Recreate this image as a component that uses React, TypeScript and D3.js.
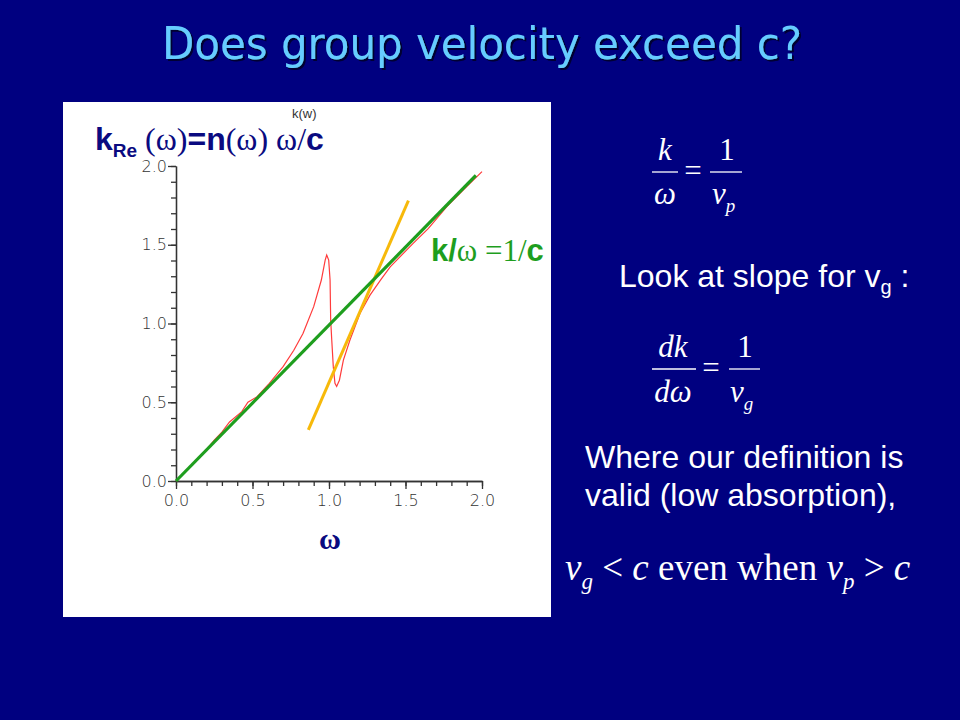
import React, { useEffect, useRef } from "react";
import * as d3 from "d3";

// Values: omega and k_Re(omega)
const omega = [0, 0.1, 0.2, 0.25, 0.3, 0.35, 0.43, 0.47, 0.53, 0.61, 0.7, 0.77, 0.83, 0.9, 0.95, 0.975, 0.985, 0.998, 1.007, 1.011, 1.018, 1.028, 1.039, 1.05, 1.068, 1.094, 1.137, 1.203, 1.268, 1.34, 1.4, 1.55, 1.65, 1.77, 1.9, 2.0];
const kRe = [0, 0.1, 0.2, 0.26, 0.31, 0.375, 0.44, 0.5, 0.535, 0.62, 0.726, 0.83, 0.937, 1.107, 1.276, 1.403, 1.435, 1.403, 1.276, 1.02, 0.895, 0.726, 0.62, 0.6, 0.64, 0.768, 0.895, 1.065, 1.18, 1.28, 1.36, 1.509, 1.604, 1.742, 1.869, 1.964];

// light line k = omega / c
const lightOmega = [0, 1.96];
const lightK = [0, 1.94];

// tangent at the steep part (group velocity)
const tangentOmega = [0.865, 1.519];
const tangentK = [0.324, 1.78];

const majorTicks = [0, 0.5, 1.0, 1.5, 2.0];
const minorTicks = d3.range(0, 2.0001, 0.1);

const BG = "#000080";
const NAVY = "#0a0a80";
const GREEN = "#1e9e1e";
const ORANGE = "#f7b90a";
const RED = "#ff3b3b";

export default function App() {
  const axRef = useRef<SVGGElement>(null);

  const x = d3.scaleLinear().domain([0, 2]).range([176, 482]);
  const y = d3.scaleLinear().domain([0, 2]).range([481, 166]);

  useEffect(() => {
    const g = d3.select(axRef.current);
    g.selectAll("*").remove();

    // minor ticks
    g.append("g")
      .attr("transform", `translate(0,${y(0)})`)
      .call(d3.axisBottom(x).tickValues(minorTicks).tickSize(5).tickSizeOuter(0).tickFormat(() => ""));
    g.append("g")
      .attr("transform", `translate(${x(0)},0)`)
      .call(d3.axisLeft(y).tickValues(minorTicks).tickSize(5).tickSizeOuter(0).tickFormat(() => ""));

    // major ticks with labels
    g.append("g")
      .attr("transform", `translate(0,${y(0)})`)
      .call(d3.axisBottom(x).tickValues(majorTicks).tickSize(8).tickSizeOuter(0).tickPadding(6).tickFormat(d3.format(".1f")));
    g.append("g")
      .attr("transform", `translate(${x(0)},0)`)
      .call(d3.axisLeft(y).tickValues(majorTicks).tickSize(8).tickSizeOuter(0).tickPadding(1).tickFormat(d3.format(".1f")));

    g.selectAll("path.domain").attr("stroke", "#333").attr("stroke-width", 1.3);
    g.selectAll(".tick line").attr("stroke", "#333").attr("stroke-width", 1.3);
    g.selectAll(".tick text")
      .attr("fill", "#333")
      .attr("font-size", 16)
      .attr("font-family", "'DejaVu Sans', sans-serif")
      .attr("font-weight", 300);
  }, []);

  const line = d3
    .line<[number, number]>()
    .x((d) => x(d[0]))
    .y((d) => y(d[1]));

  const redPts = omega.map((w, i) => [w, kRe[i]] as [number, number]);
  const lightPts = lightOmega.map((w, i) => [w, lightK[i]] as [number, number]);
  const tanPts = tangentOmega.map((w, i) => [w, tangentK[i]] as [number, number]);

  const serif = "'Liberation Serif', 'Times New Roman', serif";
  const sans = "'Liberation Sans', Arial, sans-serif";

  return (
    <svg width={960} height={720} style={{ position: "absolute", left: 0, top: 0 }}>
      <defs>
        <filter id="shadow" x="-5%" y="-20%" width="110%" height="150%">
          <feDropShadow dx={2} dy={2} stdDeviation={0.6} floodColor="#000030" floodOpacity={1} />
        </filter>
      </defs>
      <rect width={960} height={720} fill={BG} />

      {/* title */}
      <text
        x={482}
        y={59}
        fill="#66ccff"
        filter="url(#shadow)"
        textAnchor="middle"
        fontFamily="'DejaVu Sans Condensed', 'DejaVu Sans', sans-serif"
        fontSize={44}
        textLength={640}
        lengthAdjust="spacingAndGlyphs"
      >
        Does group velocity exceed c?
      </text>

      {/* plot panel */}
      <rect x={63} y={102} width={488} height={515} fill="#ffffff" />
      <g ref={axRef} />

      <path d={line(redPts) || ""} fill="none" stroke={RED} strokeWidth={1.2} />
      <path d={line(tanPts) || ""} fill="none" stroke={ORANGE} strokeWidth={3} />
      <path d={line(lightPts) || ""} fill="none" stroke={GREEN} strokeWidth={3.2} />

      <text x={292} y={118} fontFamily={sans} fontSize={13} fill="#333">k(w)</text>

      <text x={95} y={150} fontFamily={sans} fontWeight="bold" fontSize={32} fill={NAVY}>
        k<tspan fontSize={19} dy={7}>Re</tspan>
        <tspan dy={-7} fontWeight="normal" fontFamily={serif}> (ω)</tspan>
        <tspan>=n</tspan>
        <tspan fontWeight="normal" fontFamily={serif}>(ω)  ω/</tspan>
        <tspan>c</tspan>
      </text>

      <text x={431} y={261} fontFamily={sans} fontWeight="bold" fontSize={31} fill={GREEN}>
        k/<tspan fontWeight="normal" fontFamily={serif}>ω =1/</tspan>
        <tspan>c</tspan>
      </text>

      <text x={330} y={549} textAnchor="middle" fontFamily={serif} fontWeight="bold" fontSize={30} fill={NAVY}>
        ω
      </text>

      {/* right hand side */}
      <g fill="#ffffff" fontFamily={serif} fontSize={31}>
        <text x={665} y={160} textAnchor="middle" fontStyle="italic">k</text>
        <line x1={652} x2={678} y1={172} y2={172} stroke="#fff" strokeWidth={1.3} />
        <text x={665} y={204} textAnchor="middle" fontStyle="italic">ω</text>
        <text x={693} y={181} textAnchor="middle">=</text>
        <text x={727} y={160} textAnchor="middle">1</text>
        <line x1={710} x2={742} y1={172} y2={172} stroke="#fff" strokeWidth={1.3} />
        <text x={712} y={204} fontStyle="italic">v<tspan fontSize={19} dy={8}>p</tspan></text>

        <text x={673} y={357} textAnchor="middle" fontStyle="italic">dk</text>
        <line x1={652} x2={696} y1={369} y2={369} stroke="#fff" strokeWidth={1.3} />
        <text x={673} y={402} textAnchor="middle" fontStyle="italic">dω</text>
        <text x={711} y={378} textAnchor="middle">=</text>
        <text x={745} y={357} textAnchor="middle">1</text>
        <line x1={729} x2={760} y1={369} y2={369} stroke="#fff" strokeWidth={1.3} />
        <text x={730} y={402} fontStyle="italic">v<tspan fontSize={19} dy={8}>g</tspan></text>

        <text x={565} y={580} fontSize={37}>
          <tspan fontStyle="italic">v</tspan>
          <tspan fontStyle="italic" fontSize={23} dy={9}>g</tspan>
          <tspan dy={-9}> &lt; </tspan>
          <tspan fontStyle="italic">c</tspan>
          <tspan> even when </tspan>
          <tspan fontStyle="italic">v</tspan>
          <tspan fontStyle="italic" fontSize={23} dy={9}>p</tspan>
          <tspan dy={-9}> &gt; </tspan>
          <tspan fontStyle="italic">c</tspan>
        </text>
      </g>

      <g fill="#ffffff" fontFamily={sans} fontSize={32}>
        <text x={619} y={287}>
          Look at slope for v<tspan fontSize={20} dy={7}>g</tspan><tspan dy={-7}> :</tspan>
        </text>
        <text x={585} y={468}>Where our definition is</text>
        <text x={585} y={506}>valid (low absorption),</text>
      </g>
    </svg>
  );
}
